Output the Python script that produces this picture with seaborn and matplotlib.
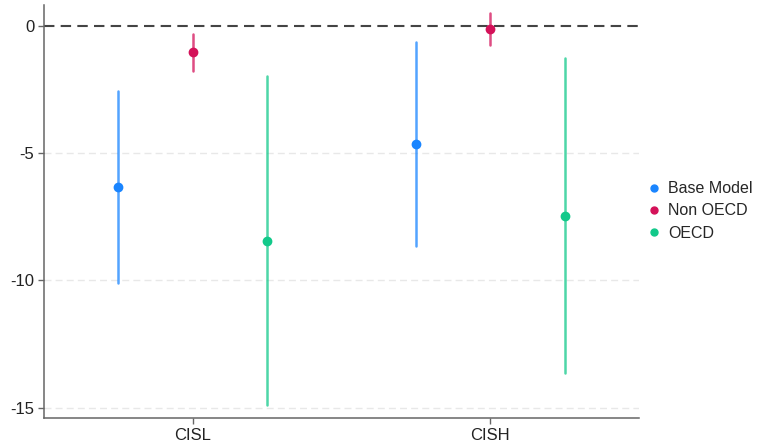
import numpy as np
import pandas as pd
import matplotlib
matplotlib.use("Agg")
import matplotlib.pyplot as plt
from matplotlib.lines import Line2D
import seaborn as sns

categories = ["CISL", "CISH"]
models = ["Base Model", "Non OECD", "OECD"]
estimates = {"Base Model": [-6.33, -4.63], "Non OECD": [-1.03, -0.13], "OECD": [-8.44, -7.46]}
lower = {"Base Model": [-10.10, -8.66], "Non OECD": [-1.79, -0.75], "OECD": [-14.90, -13.63]}
upper = {"Base Model": [-2.58, -0.62], "Non OECD": [-0.31, 0.52], "OECD": [-1.96, -1.27]}
colors = {"Base Model": "#1A85FF", "Non OECD": "#D41159", "OECD": "#12C98A"}
yticks = [0, -5, -10, -15]

rows = []
for m in models:
    for i, c in enumerate(categories):
        for v in (lower[m][i], estimates[m][i], upper[m][i]):
            rows.append({"variable": c, "model": m, "value": v})
df = pd.DataFrame(rows)

sns.set_theme(style="white")
plt.rcParams["font.family"] = ["Liberation Sans", "DejaVu Sans"]
plt.rcParams["axes.unicode_minus"] = False

fig = plt.figure(figsize=(7.58, 4.47), dpi=100)
ax = fig.add_axes([0.058, 0.065, 0.785, 0.924])

for y in yticks[1:]:
    ax.axhline(y, color="#e8e8e8", lw=1, ls=(0, (5, 3)), zorder=0)
ax.axhline(0, color="#444444", lw=1.5, ls=(0, (5, 3)), zorder=1)

sns.pointplot(data=df, x="variable", y="value", hue="model", order=categories,
              hue_order=models, palette=colors, estimator="median",
              errorbar=("pi", 100), dodge=0.5, linestyle="none",
              markers="o", markersize=5, err_kws={"linewidth": 1.8, "alpha": 0.75},
              ax=ax, legend=False, zorder=3)

ax.set_xlim(-0.5, 1.5)
ax.set_ylim(-15.4, 0.82)
ax.set_yticks(yticks)
ax.set_yticklabels([str(t) for t in yticks])
ax.set_xlabel("")
ax.set_ylabel("")
for s in ["top", "right"]:
    ax.spines[s].set_visible(False)
for s in ["left", "bottom"]:
    ax.spines[s].set_color("#666666")
    ax.spines[s].set_linewidth(1.1)
ax.tick_params(axis="both", which="both", length=4, width=1, color="#666666",
               labelsize=12, labelcolor="#222222", left=True, bottom=True, pad=3)

handles = [Line2D([0], [0], marker="o", color="none", markerfacecolor=colors[m],
                  markeredgecolor=colors[m], markersize=5) for m in models]
fig.legend(handles, models, loc="center left", bbox_to_anchor=(0.840, 0.528),
           frameon=False, fontsize=11.5, handletextpad=0.35, labelspacing=0.45,
           handlelength=1.0, borderaxespad=0.2)

fig.savefig("out.png", dpi=100)
